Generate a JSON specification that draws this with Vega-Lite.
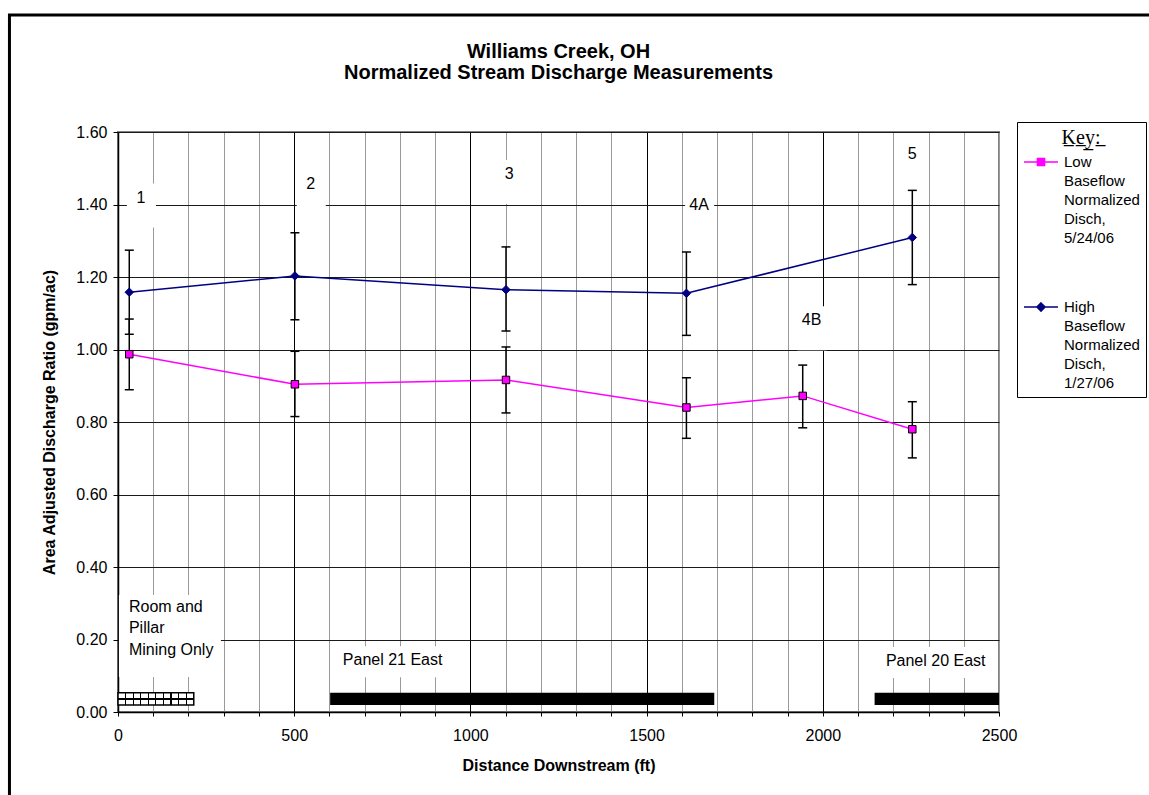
{
  "$schema": "https://vega.github.io/schema/vega-lite/v6.json",
  "width": 881,
  "height": 580,
  "autosize": {"type": "none"},
  "padding": {"left": 118, "top": 132, "right": 150, "bottom": 83},
  "background": "white",
  "title": {
    "text": ["Williams Creek, OH", "Normalized Stream Discharge Measurements"],
    "font": "Liberation Sans",
    "fontSize": 20,
    "fontWeight": "bold",
    "color": "black",
    "lineHeight": 21,
    "anchor": "middle",
    "frame": "group",
    "baseline": "alphabetic",
    "offset": -85.5
  },
  "config": {
    "font": "Liberation Sans",
    "view": {"stroke": "#808080", "strokeWidth": 2},
    "style": {"guide-label": {"lineHeight": 19}},
    "axis": {
      "labelColor": "black",
      "titleColor": "black",
      "domainColor": "black",
      "tickColor": "black",
      "labelFont": "Liberation Sans",
      "titleFont": "Liberation Sans",
      "labelFontSize": 16,
      "titleFontSize": 16,
      "titleFontWeight": "bold",
      "labelOverlap": false
    },
    "text": {"font": "Liberation Sans", "fontSize": 16, "color": "black"}
  },
  "datasets": {
    "measurements": [
      {"series": "Low Baseflow Normalized Disch, 5/24/06", "site": "1", "distance": 32, "ratio": 0.987, "lo": 0.889, "hi": 1.084},
      {"series": "Low Baseflow Normalized Disch, 5/24/06", "site": "2", "distance": 502, "ratio": 0.904, "lo": 0.815, "hi": 0.995},
      {"series": "Low Baseflow Normalized Disch, 5/24/06", "site": "3", "distance": 1101, "ratio": 0.916, "lo": 0.825, "hi": 1.007},
      {"series": "Low Baseflow Normalized Disch, 5/24/06", "site": "4A", "distance": 1613, "ratio": 0.84, "lo": 0.755, "hi": 0.922},
      {"series": "Low Baseflow Normalized Disch, 5/24/06", "site": "4B", "distance": 1943, "ratio": 0.872, "lo": 0.784, "hi": 0.957},
      {"series": "Low Baseflow Normalized Disch, 5/24/06", "site": "5", "distance": 2254, "ratio": 0.78, "lo": 0.701, "hi": 0.856},
      {"series": "High Baseflow Normalized Disch, 1/27/06", "site": "1", "distance": 32, "ratio": 1.158, "lo": 1.042, "hi": 1.274},
      {"series": "High Baseflow Normalized Disch, 1/27/06", "site": "2", "distance": 502, "ratio": 1.203, "lo": 1.082, "hi": 1.322},
      {"series": "High Baseflow Normalized Disch, 1/27/06", "site": "3", "distance": 1101, "ratio": 1.165, "lo": 1.051, "hi": 1.283},
      {"series": "High Baseflow Normalized Disch, 1/27/06", "site": "4A", "distance": 1613, "ratio": 1.155, "lo": 1.039, "hi": 1.269},
      {"series": "High Baseflow Normalized Disch, 1/27/06", "site": "5", "distance": 2254, "ratio": 1.309, "lo": 1.179, "hi": 1.439}
    ],
    "sites": [
      {"site": "1", "distance": 65, "ratio": 1.419},
      {"site": "2", "distance": 547, "ratio": 1.457},
      {"site": "3", "distance": 1110, "ratio": 1.484},
      {"site": "4A", "distance": 1649, "ratio": 1.399},
      {"site": "4B", "distance": 1968, "ratio": 1.081},
      {"site": "5", "distance": 2254, "ratio": 1.538}
    ],
    "zones": [
      {"zone": "Room and Pillar Mining Only", "distance": 0, "distance_end": 215},
      {"zone": "Panel 21 East", "distance": 602, "distance_end": 1692},
      {"zone": "Panel 20 East", "distance": 2147, "distance_end": 2500}
    ],
    "zoneLabels": [
      {"zone": "Room and Pillar Mining Only", "label": ["Room and", "Pillar", "Mining Only"], "distance": 31, "ratio": 0.29},
      {"zone": "Panel 21 East", "label": "Panel 21 East", "distance": 638, "ratio": 0.143},
      {"zone": "Panel 20 East", "label": "Panel 20 East", "distance": 2179, "ratio": 0.141}
    ]
  },
  "layer": [
    {
      "data": {"values": [{}]},
      "mark": {"type": "rect", "fill": "transparent", "stroke": "black", "strokeWidth": 3},
      "encoding": {
        "x": {"datum": -308, "type": "quantitative", "scale": {"domain": [0, 2500], "nice": false, "zero": false}},
        "x2": {"datum": 3000},
        "y": {"datum": 1.9228, "type": "quantitative", "scale": {"domain": [0, 1.6], "nice": false}},
        "y2": {"datum": -0.3}
      }
    },
    {
      "data": {"name": "sites"},
      "mark": {"type": "point", "shape": "M-14,-14H15V30H-14Z", "size": 4, "filled": true, "fill": "white", "strokeWidth": 0, "opacity": 1},
      "encoding": {
        "x": {"field": "distance", "type": "quantitative", "scale": {"domain": [0, 2500], "nice": false, "zero": false}},
        "y": {"field": "ratio", "type": "quantitative", "scale": {"domain": [0, 1.6], "nice": false}}
      }
    },
    {
      "data": {"name": "zoneLabels"},
      "transform": [{"filter": "datum.zone === 'Room and Pillar Mining Only'"}],
      "mark": {"type": "point", "shape": "M-10,-12H92V70H-10Z", "size": 4, "filled": true, "fill": "white", "strokeWidth": 0, "opacity": 1},
      "encoding": {
        "x": {"field": "distance", "type": "quantitative", "scale": {"domain": [0, 2500], "nice": false, "zero": false}},
        "y": {"field": "ratio", "type": "quantitative", "scale": {"domain": [0, 1.6], "nice": false}}
      }
    },
    {
      "data": {"name": "zoneLabels"},
      "transform": [{"filter": "datum.zone !== 'Room and Pillar Mining Only'"}],
      "mark": {"type": "point", "shape": "M-8,-14H110V17H-8Z", "size": 4, "filled": true, "fill": "white", "strokeWidth": 0, "opacity": 1},
      "encoding": {
        "x": {"field": "distance", "type": "quantitative", "scale": {"domain": [0, 2500], "nice": false, "zero": false}},
        "y": {"field": "ratio", "type": "quantitative", "scale": {"domain": [0, 1.6], "nice": false}}
      }
    },
    {
      "data": {"name": "zones"},
      "transform": [{"filter": "datum.zone !== 'Room and Pillar Mining Only'"}],
      "mark": {"type": "rect", "color": "black"},
      "encoding": {
        "x": {"field": "distance", "type": "quantitative", "scale": {"domain": [0, 2500], "nice": false, "zero": false}},
        "x2": {"field": "distance_end"},
        "y": {"datum": 0.019, "type": "quantitative", "scale": {"domain": [0, 1.6], "nice": false}},
        "y2": {"datum": 0.053}
      }
    },
    {
      "data": {"name": "zones"},
      "transform": [{"filter": "datum.zone === 'Room and Pillar Mining Only'"}],
      "mark": {
        "type": "rect",
        "fill": {
          "gradient": "linear", "x1": 0, "y1": 0, "x2": 1, "y2": 0,
          "stops": [
            {"offset": 0, "color": "white"},
            {"offset": 0.092, "color": "white"}, {"offset": 0.092, "color": "black"}, {"offset": 0.108, "color": "black"}, {"offset": 0.108, "color": "white"},
            {"offset": 0.192, "color": "white"}, {"offset": 0.192, "color": "black"}, {"offset": 0.208, "color": "black"}, {"offset": 0.208, "color": "white"},
            {"offset": 0.292, "color": "white"}, {"offset": 0.292, "color": "black"}, {"offset": 0.308, "color": "black"}, {"offset": 0.308, "color": "white"},
            {"offset": 0.392, "color": "white"}, {"offset": 0.392, "color": "black"}, {"offset": 0.408, "color": "black"}, {"offset": 0.408, "color": "white"},
            {"offset": 0.492, "color": "white"}, {"offset": 0.492, "color": "black"}, {"offset": 0.508, "color": "black"}, {"offset": 0.508, "color": "white"},
            {"offset": 0.592, "color": "white"}, {"offset": 0.592, "color": "black"}, {"offset": 0.608, "color": "black"}, {"offset": 0.608, "color": "white"},
            {"offset": 0.692, "color": "white"}, {"offset": 0.692, "color": "black"}, {"offset": 0.708, "color": "black"}, {"offset": 0.708, "color": "white"},
            {"offset": 0.792, "color": "white"}, {"offset": 0.792, "color": "black"}, {"offset": 0.808, "color": "black"}, {"offset": 0.808, "color": "white"},
            {"offset": 0.892, "color": "white"}, {"offset": 0.892, "color": "black"}, {"offset": 0.908, "color": "black"}, {"offset": 0.908, "color": "white"},
            {"offset": 1, "color": "white"}
          ]
        }
      },
      "encoding": {
        "x": {"field": "distance", "type": "quantitative", "scale": {"domain": [0, 2500], "nice": false, "zero": false}},
        "x2": {"field": "distance_end"},
        "y": {"datum": 0.019, "type": "quantitative", "scale": {"domain": [0, 1.6], "nice": false}},
        "y2": {"datum": 0.053}
      }
    },
    {
      "data": {"name": "zones"},
      "transform": [{"filter": "datum.zone === 'Room and Pillar Mining Only'"}],
      "mark": {
        "type": "rect",
        "stroke": "black",
        "strokeWidth": 1.5,
        "fill": {
          "gradient": "linear", "x1": 0, "y1": 0, "x2": 0, "y2": 1,
          "stops": [
            {"offset": 0, "color": "rgba(0,0,0,0)"},
            {"offset": 0.45, "color": "rgba(0,0,0,0)"}, {"offset": 0.45, "color": "black"},
            {"offset": 0.55, "color": "black"}, {"offset": 0.55, "color": "rgba(0,0,0,0)"},
            {"offset": 1, "color": "rgba(0,0,0,0)"}
          ]
        }
      },
      "encoding": {
        "x": {"field": "distance", "type": "quantitative", "scale": {"domain": [0, 2500], "nice": false, "zero": false}},
        "x2": {"field": "distance_end"},
        "y": {"datum": 0.019, "type": "quantitative", "scale": {"domain": [0, 1.6], "nice": false}},
        "y2": {"datum": 0.053}
      }
    },
    {
      "data": {"name": "zoneLabels"},
      "mark": {"type": "text", "align": "left", "baseline": "middle", "fontSize": 16, "lineHeight": 21.5, "color": "black"},
      "encoding": {
        "x": {"field": "distance", "type": "quantitative", "scale": {"domain": [0, 2500], "nice": false, "zero": false}},
        "y": {"field": "ratio", "type": "quantitative", "scale": {"domain": [0, 1.6], "nice": false}},
        "text": {"field": "label", "type": "nominal"}
      }
    },
    {
      "data": {"name": "sites"},
      "mark": {"type": "text", "align": "center", "baseline": "middle", "fontSize": 16, "color": "black"},
      "encoding": {
        "x": {"field": "distance", "type": "quantitative", "scale": {"domain": [0, 2500], "nice": false, "zero": false}},
        "y": {"field": "ratio", "type": "quantitative", "scale": {"domain": [0, 1.6], "nice": false}},
        "text": {"field": "site", "type": "nominal"}
      }
    },
    {
      "data": {"name": "measurements"},
      "transform": [{"filter": "datum.series === 'Low Baseflow Normalized Disch, 5/24/06'"}],
      "mark": {"type": "line", "strokeWidth": 1.5, "stroke": "#FF00FF"},
      "encoding": {
        "x": {
          "field": "distance", "type": "quantitative",
          "scale": {"domain": [0, 2500], "nice": false, "zero": false},
          "axis": {
            "title": "Distance Downstream (ft)",
            "tickCount": 25,
            "format": "d",
            "labelExpr": "datum.value % 500 === 0 ? datum.label : ''",
            "labelOverlap": false,
            "labelFlush": false,
            "labelPadding": 11,
            "tickSize": 4,
            "tickWidth": 1,
            "domainWidth": 1.5,
            "grid": true,
            "gridWidth": 1,
            "gridColor": {"condition": {"test": "datum.value % 500 === 0 && datum.value > 0 && datum.value < 2500", "value": "#000000"}, "value": "#9a9a9a"},
            "titlePadding": 14,
            "zindex": 0
          }
        },
        "y": {
          "field": "ratio", "type": "quantitative",
          "scale": {"domain": [0, 1.6], "nice": false},
          "axis": {
            "title": "Area Adjusted Discharge Ratio (gpm/ac)",
            "tickCount": 8,
            "format": ".2f",
            "tickSize": 5,
            "labelPadding": 6,
            "domainWidth": 1.5,
            "grid": true,
            "gridColor": "#1a1a1a",
            "gridWidth": 1,
            "titlePadding": 18,
            "zindex": 0
          }
        }
      }
    },
    {
      "data": {"name": "measurements"},
      "transform": [{"filter": "datum.series === 'High Baseflow Normalized Disch, 1/27/06'"}],
      "mark": {"type": "line", "strokeWidth": 1.5, "stroke": "#000080"},
      "encoding": {
        "x": {"field": "distance", "type": "quantitative", "scale": {"domain": [0, 2500], "nice": false, "zero": false}},
        "y": {"field": "ratio", "type": "quantitative", "scale": {"domain": [0, 1.6], "nice": false}}
      }
    },
    {
      "data": {"name": "measurements"},
      "mark": {"type": "rule", "color": "black", "strokeWidth": 1.5},
      "encoding": {
        "x": {"field": "distance", "type": "quantitative", "scale": {"domain": [0, 2500], "nice": false, "zero": false}},
        "y": {"field": "lo", "type": "quantitative", "scale": {"domain": [0, 1.6], "nice": false}},
        "y2": {"field": "hi"}
      }
    },
    {
      "data": {"name": "measurements"},
      "transform": [{"fold": ["lo", "hi"], "as": ["bound", "cap"]}],
      "mark": {"type": "tick", "orient": "horizontal", "color": "black", "size": 9, "thickness": 1.5, "opacity": 1},
      "encoding": {
        "x": {"field": "distance", "type": "quantitative", "scale": {"domain": [0, 2500], "nice": false, "zero": false}},
        "y": {"field": "cap", "type": "quantitative", "scale": {"domain": [0, 1.6], "nice": false}}
      }
    },
    {
      "data": {"name": "measurements"},
      "transform": [{"filter": "datum.series === 'Low Baseflow Normalized Disch, 5/24/06'"}],
      "mark": {"type": "point", "shape": "square", "filled": true, "fill": "#FF00FF", "stroke": "black", "strokeWidth": 1, "size": 56, "opacity": 1},
      "encoding": {
        "x": {"field": "distance", "type": "quantitative", "scale": {"domain": [0, 2500], "nice": false, "zero": false}},
        "y": {"field": "ratio", "type": "quantitative", "scale": {"domain": [0, 1.6], "nice": false}}
      }
    },
    {
      "data": {"name": "measurements"},
      "transform": [{"filter": "datum.series === 'High Baseflow Normalized Disch, 1/27/06'"}],
      "mark": {"type": "point", "shape": "diamond", "filled": true, "fill": "#000080", "stroke": "#000080", "strokeWidth": 1, "size": 72, "opacity": 1},
      "encoding": {
        "x": {"field": "distance", "type": "quantitative", "scale": {"domain": [0, 2500], "nice": false, "zero": false}},
        "y": {"field": "ratio", "type": "quantitative", "scale": {"domain": [0, 1.6], "nice": false}}
      }
    },
    {
      "data": {"name": "measurements"},
      "mark": {"type": "point", "opacity": 0, "filled": true},
      "encoding": {
        "x": {"field": "distance", "type": "quantitative", "scale": {"domain": [0, 2500], "nice": false, "zero": false}},
        "y": {"field": "ratio", "type": "quantitative", "scale": {"domain": [0, 1.6], "nice": false}},
        "fill": {
          "field": "series", "type": "nominal",
          "scale": {"domain": ["Low Baseflow Normalized Disch, 5/24/06", "High Baseflow Normalized Disch, 1/27/06"], "range": ["#FF00FF", "#000080"]},
          "legend": {
            "title": "K\u0332e\u0332y\u0332:\u0332", "orient": "none", "legendX": 899, "legendY": -10, "padding": 6,
            "strokeColor": "black", "fillColor": "white",
            "titleFont": "Liberation Serif", "titleFontSize": 20, "titleFontWeight": "normal", "titleColor": "black", "titleAnchor": "middle", "titlePadding": 2,
            "labelFont": "Liberation Sans", "labelFontSize": 15, "labelColor": "black", "labelBaseline": "middle", "labelOffset": 5,
            "labelExpr": "split(datum.label, ' ')",
            "symbolSize": 1156, "symbolStrokeWidth": 1.5, "symbolOpacity": 1, "clipHeight": 24, "rowPadding": 49
          }
        },
        "stroke": {
          "field": "series", "type": "nominal",
          "scale": {"domain": ["Low Baseflow Normalized Disch, 5/24/06", "High Baseflow Normalized Disch, 1/27/06"], "range": ["#FF00FF", "#000080"]},
          "legend": {
            "title": "K\u0332e\u0332y\u0332:\u0332", "orient": "none", "legendX": 899, "legendY": -10, "padding": 6,
            "strokeColor": "black", "fillColor": "white",
            "titleFont": "Liberation Serif", "titleFontSize": 20, "titleFontWeight": "normal", "titleColor": "black", "titleAnchor": "middle", "titlePadding": 2,
            "labelFont": "Liberation Sans", "labelFontSize": 15, "labelColor": "black", "labelBaseline": "middle", "labelOffset": 5,
            "labelExpr": "split(datum.label, ' ')",
            "symbolSize": 1156, "symbolStrokeWidth": 1.5, "symbolOpacity": 1, "clipHeight": 24, "rowPadding": 49
          }
        },
        "shape": {
          "field": "series", "type": "nominal",
          "scale": {"domain": ["Low Baseflow Normalized Disch, 5/24/06", "High Baseflow Normalized Disch, 1/27/06"], "range": ["M-1,0H1M-0.21,-0.21H0.21V0.21H-0.21Z", "M-1,0H1M0,-0.24L0.24,0L0,0.24L-0.24,0Z"]},
          "legend": {
            "title": "K\u0332e\u0332y\u0332:\u0332", "orient": "none", "legendX": 899, "legendY": -10, "padding": 6,
            "strokeColor": "black", "fillColor": "white",
            "titleFont": "Liberation Serif", "titleFontSize": 20, "titleFontWeight": "normal", "titleColor": "black", "titleAnchor": "middle", "titlePadding": 2,
            "labelFont": "Liberation Sans", "labelFontSize": 15, "labelColor": "black", "labelBaseline": "middle", "labelOffset": 5,
            "labelExpr": "split(datum.label, ' ')",
            "symbolSize": 1156, "symbolStrokeWidth": 1.5, "symbolOpacity": 1, "clipHeight": 24, "rowPadding": 49
          }
        }
      }
    }
  ]
}
